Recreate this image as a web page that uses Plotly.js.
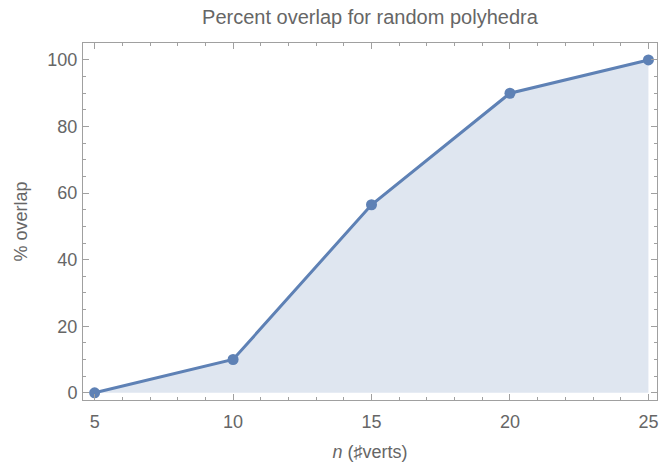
<!DOCTYPE html>
<html>
<head>
<meta charset="utf-8">
<script src="https://cdn.plot.ly/plotly-3.0.1.min.js"></script>
<style>html,body{margin:0;padding:0;background:#fff}#chart{width:662px;height:468px}</style>
</head>
<body>
<div id="chart"></div>
<script>
const nVerts = [5, 10, 15, 20, 25];
const overlapPct = [0, 10, 56.5, 90, 100];
const xTicks = [5, 10, 15, 20, 25];
const yTicks = [0, 20, 40, 60, 80, 100];

const lineColor = '#5e81b5';
const textColor = '#666666';
const frameColor = '#a0a0a0';
const font = 'Liberation Sans, Arial, sans-serif';

const trace = {
  x: nVerts, y: overlapPct, type: 'scatter', mode: 'lines+markers',
  fill: 'tozeroy', fillcolor: 'rgba(94,129,181,0.2)',
  line: {color: lineColor, width: 3},
  marker: {color: lineColor, size: 11},
  hoverinfo: 'none'
};

const axisCommon = {
  showgrid: false, zeroline: false, showline: true, linecolor: frameColor, linewidth: 1,
  mirror: 'allticks', ticks: 'inside', ticklen: 6, tickcolor: frameColor, tickwidth: 1,
  tickfont: {family: font, size: 18, color: textColor}
};

const layout = {
  width: 662, height: 468,
  margin: {l: 83, r: 5, t: 43, b: 68},
  paper_bgcolor: '#fff', plot_bgcolor: '#fff',
  showlegend: false,
  title: {text: 'Percent overlap for random polyhedra', font: {family: font, size: 20, color: textColor},
          x: 0.5588, xanchor: 'center', y: 0.963, yanchor: 'middle'},
  xaxis: Object.assign({}, axisCommon, {
    range: [4.58, 25.31], tickvals: xTicks, ticktext: xTicks.map(String),
    ticklabelstandoff: 5,
    minor: {dtick: 1, tick0: 5, ticks: 'inside', ticklen: 3, tickcolor: frameColor},
    title: {text: '<i>n</i> (♯verts)', font: {family: font, size: 18, color: textColor}, standoff: 14}
  }),
  yaxis: Object.assign({}, axisCommon, {
    range: [-2.17, 105.1], tickvals: yTicks, ticktext: yTicks.map(String),
    ticklabelstandoff: 1,
    minor: {dtick: 5, tick0: 0, ticks: 'inside', ticklen: 3, tickcolor: frameColor},
    title: {text: '% overlap', font: {family: font, size: 18, color: textColor}, standoff: 15}
  })
};

Plotly.newPlot('chart', [trace], layout, {staticPlot: true, displayModeBar: false});
</script>
</body>
</html>
